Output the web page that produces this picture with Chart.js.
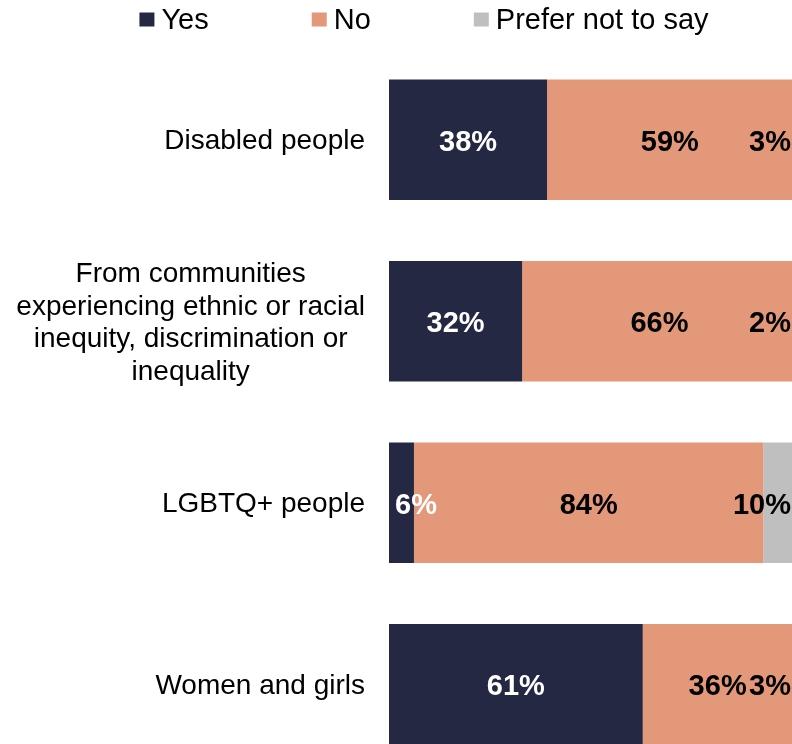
<!DOCTYPE html>
<html>
<head>
<meta charset="utf-8">
<title>Representation</title>
<script src="https://cdn.jsdelivr.net/npm/chart.js@4"></script>
<style>
  html, body { margin: 0; padding: 0; background: #fff; overflow: hidden; }
  #chartBox { position: relative; width: 812px; height: 776px; }
</style>
</head>
<body>
<div id="chartBox"><canvas id="groupsChart"></canvas></div>
<script>
let categories = [
    ["Disabled people"],
    ["From communities", "experiencing ethnic or racial", "inequity, discrimination or", "inequality"],
    ["LGBTQ+ people"],
    ["Women and girls"]
];
let seriesNames = ["Yes", "No", "Prefer not to say"];
let yesValues = [38, 32, 6, 61];
let noValues = [59, 66, 84, 36];
let preferValues = [3, 2, 10, 3];
let seriesColors = ["#242842", "#E4987A", "#BFBFBF"];
let labelColors = ["#ffffff", "#000000", "#000000"];

let fontFamily = "'Liberation Sans', Arial, sans-serif";

// Legend along the top, drawn by hand so the box/text gap stays tight
let topLegend = {
    id: "topLegend",
    afterDraw(chart) {
        let ctx = chart.ctx;
        ctx.save();
        ctx.font = "29px " + fontFamily;
        ctx.textBaseline = "middle";
        let box = 15, gap = 7, spacing = 103;
        let widths = seriesNames.map(n => box + gap + ctx.measureText(n).width);
        let total = widths.reduce((a, b) => a + b, 0) + spacing * (widths.length - 1);
        let x = 424 - total / 2;
        let y = 20;
        seriesNames.forEach((name, i) => {
            ctx.fillStyle = seriesColors[i];
            ctx.fillRect(x, y - box / 2, box, box - 1);
            ctx.fillStyle = "#000";
            ctx.textAlign = "left";
            ctx.fillText(name, x + box + gap, y + 1);
            x += widths[i] + spacing;
        });
        ctx.restore();
    }
};

// Category names left of the bars: block right aligned, lines centred
let categoryLabels = {
    id: "categoryLabels",
    afterDraw(chart) {
        let ctx = chart.ctx;
        let yScale = chart.scales.y;
        let right = chart.chartArea.left - 24;
        let lineHeight = 32.5;
        ctx.save();
        ctx.font = "28px " + fontFamily;
        ctx.fillStyle = "#000";
        ctx.textAlign = "center";
        ctx.textBaseline = "middle";
        categories.forEach((lines, i) => {
            let blockWidth = Math.max(...lines.map(l => ctx.measureText(l).width));
            let cx = right - blockWidth / 2;
            let cy = yScale.getPixelForValue(i) + 2;
            let startY = cy - (lines.length - 1) * lineHeight / 2;
            lines.forEach((line, j) => ctx.fillText(line, cx, startY + j * lineHeight));
        });
        ctx.restore();
    }
};

// Percentage labels inside each segment, kept inside the visible plot
let valueLabels = {
    id: "valueLabels",
    afterDatasetsDraw(chart) {
        let ctx = chart.ctx;
        let area = chart.chartArea;
        ctx.save();
        ctx.font = "bold 29px " + fontFamily;
        ctx.textAlign = "center";
        ctx.textBaseline = "middle";
        chart.data.datasets.forEach((ds, di) => {
            let meta = chart.getDatasetMeta(di);
            meta.data.forEach((bar, i) => {
                let text = ds.data[i] + "%";
                let w = ctx.measureText(text).width;
                let x = (bar.x + bar.base) / 2;
                if (x - w / 2 < area.left + 6) x = area.left + 6 + w / 2;
                if (x + w / 2 > area.right - 14) x = area.right - 14 - w / 2;
                ctx.fillStyle = labelColors[di];
                ctx.fillText(text, x, bar.y + 3);
            });
        });
        ctx.restore();
    }
};

document.addEventListener("DOMContentLoaded", function () {
    let ctx = document.getElementById("groupsChart").getContext("2d");
    let valueSets = [yesValues, noValues, preferValues];

    new Chart(ctx, {
        type: "bar",
        data: {
            labels: categories,
            datasets: valueSets.map((vals, i) => ({
                label: seriesNames[i],
                data: vals,
                backgroundColor: seriesColors[i],
                borderWidth: 0,
                categoryPercentage: 0.665,
                barPercentage: 1
            }))
        },
        options: {
            indexAxis: "y",
            responsive: true,
            maintainAspectRatio: false,
            animation: false,
            layout: { padding: { top: 49, bottom: 1, right: 7, left: 0 } },
            scales: {
                x: { stacked: true, min: 0, max: 100, display: false },
                y: {
                    stacked: true,
                    grid: { display: false },
                    border: { display: false },
                    ticks: { display: false },
                    afterFit: function (scale) { scale.width = 389; }
                }
            },
            plugins: {
                legend: { display: false },
                tooltip: { enabled: false }
            }
        },
        plugins: [topLegend, categoryLabels, valueLabels]
    });
});
</script>
</body>
</html>
